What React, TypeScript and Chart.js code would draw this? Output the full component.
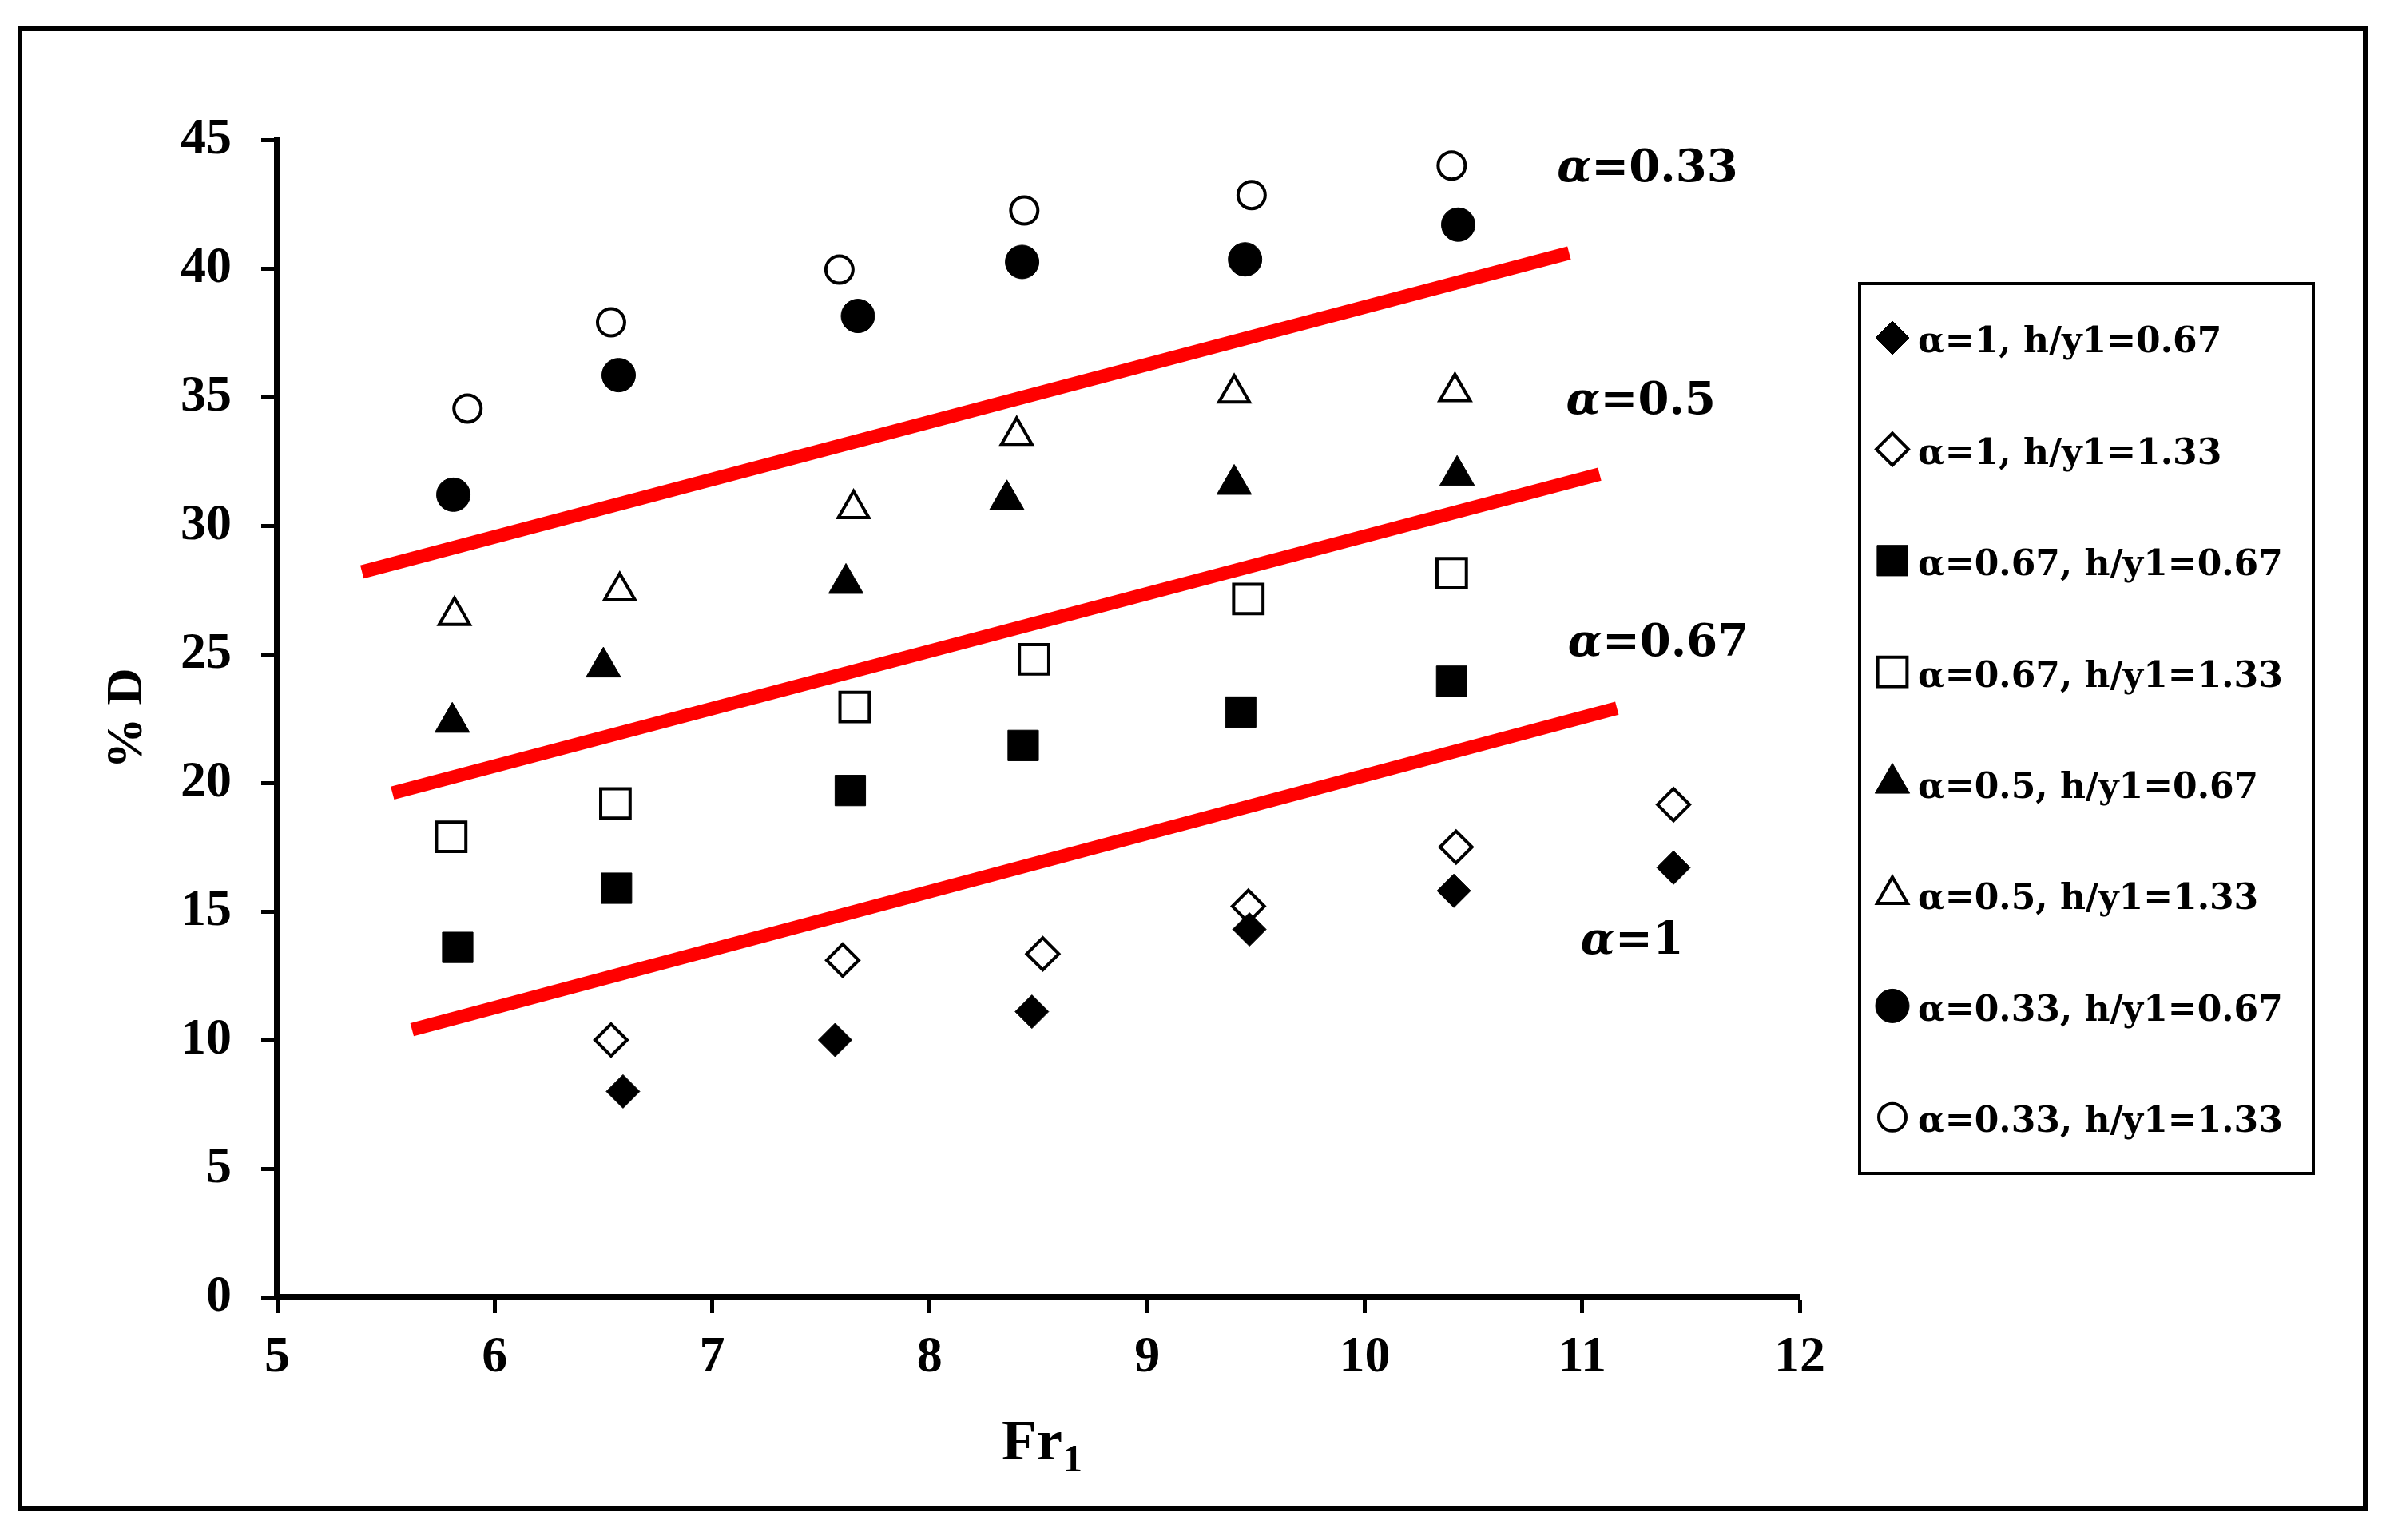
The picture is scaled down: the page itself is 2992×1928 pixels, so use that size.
import React, { useEffect, useRef } from 'react';
import { Chart, registerables } from 'chart.js';
import { drawPoint } from 'chart.js/helpers';

Chart.register(...registerables);

// ---------------- data ----------------
const seriesLabels = [
  'α=1, h/y1=0.67',
  'α=1, h/y1=1.33',
  'α=0.67, h/y1=0.67',
  'α=0.67, h/y1=1.33',
  'α=0.5, h/y1=0.67',
  'α=0.5, h/y1=1.33',
  'α=0.33, h/y1=0.67',
  'α=0.33, h/y1=1.33',
];

const a1h067X = [6.59, 7.565, 8.47, 9.47, 10.41, 11.42];
const a1h067Y = [8.0, 10.0, 11.1, 14.3, 15.8, 16.7];

const a1h133X = [6.535, 7.6, 8.52, 9.465, 10.42, 11.42];
const a1h133Y = [10.0, 13.1, 13.35, 15.2, 17.5, 19.15];

const a067h067X = [5.83, 6.56, 7.635, 8.43, 9.43, 10.4];
const a067h067Y = [13.6, 15.9, 19.7, 21.45, 22.75, 23.95];

const a067h133X = [5.8, 6.555, 7.655, 8.48, 9.465, 10.4];
const a067h133Y = [17.9, 19.2, 22.95, 24.8, 27.15, 28.15];

const a05h067X = [5.805, 6.5, 7.615, 8.355, 9.4, 10.425];
const a05h067Y = [22.35, 24.5, 27.75, 31.0, 31.6, 31.95];

const a05h133X = [5.815, 6.575, 7.65, 8.4, 9.4, 10.415];
const a05h133Y = [26.5, 27.45, 30.65, 33.5, 35.15, 35.2];

const a033h067X = [5.81, 6.57, 7.67, 8.425, 9.45, 10.43];
const a033h067Y = [31.2, 35.85, 38.15, 40.25, 40.35, 41.7];

const a033h133X = [5.875, 6.535, 7.585, 8.435, 9.48, 10.4];
const a033h133Y = [34.55, 37.9, 39.95, 42.25, 42.85, 44.0];

// red boundary lines: [x0, x1], [y0, y1]
const line033X = [5.39, 10.94];
const line033Y = [28.2, 40.6];
const line05X = [5.53, 11.08];
const line05Y = [19.6, 32.0];
const line067X = [5.62, 11.16];
const line067Y = [10.4, 22.9];

// region labels
const regionLabels = ['=0.33', '=0.5', '=0.67', '=1'];

// axis
const xTitleMain = 'Fr';
const xTitleSub = '1';
const yTitle = '% D';

// ---------------- styles ----------------
const SERIF = '"Liberation Serif", "Times New Roman", serif';
const WIDE = '"DejaVu Serif", serif';

const pts = (xs: number[], ys: number[]) => xs.map((x, i) => ({ x, y: ys[i] }));

const regionLabelPos = [
  { x: 11.3, y: 43.85 },
  { x: 11.27, y: 34.8 },
  { x: 11.35, y: 25.4 },
  { x: 11.23, y: 13.8 },
];

function markerDs(label: string, xs: number[], ys: number[], style: string, radius: number, filled: boolean) {
  return {
    type: 'scatter' as const,
    label,
    data: pts(xs, ys),
    showLine: false,
    pointStyle: style,
    pointRadius: radius,
    pointHoverRadius: radius,
    pointBackgroundColor: filled ? '#000000' : '#ffffff',
    pointBorderColor: '#000000',
    pointBorderWidth: filled ? 1 : 4,
    backgroundColor: filled ? '#000000' : '#ffffff',
    borderColor: '#000000',
    legendEntry: true,
  };
}

function lineDs(xs: number[], ys: number[]) {
  return {
    type: 'line' as const,
    label: '',
    data: pts(xs, ys),
    showLine: true,
    borderColor: '#ff0000',
    borderWidth: 17,
    borderCapStyle: 'butt',
    pointRadius: 0,
    pointHoverRadius: 0,
    fill: false,
    tension: 0,
    legendEntry: false,
  };
}

const boxLegend = {
  id: 'boxLegend',
  afterDraw(chart: any) {
    const ctx = chart.ctx as CanvasRenderingContext2D;
    ctx.save();
    ctx.lineWidth = 4;
    ctx.strokeStyle = '#000';
    ctx.strokeRect(2328, 355, 568, 1114);
    const entries = chart.data.datasets.filter((d: any) => d.legendEntry);
    entries.forEach((ds: any, i: number) => {
      const y = 423 + i * 139.4;
      ctx.fillStyle = ds.pointBackgroundColor;
      ctx.strokeStyle = ds.pointBorderColor;
      ctx.lineWidth = ds.pointBorderWidth;
      drawPoint(ctx, { pointStyle: ds.pointStyle, radius: ds.pointRadius, rotation: 0, borderWidth: ds.pointBorderWidth } as any, 2369, y);
      ctx.fillStyle = '#000';
      ctx.font = `bold 44px ${WIDE}`;
      ctx.textAlign = 'left';
      ctx.textBaseline = 'middle';
      ctx.fillText(ds.label, 2401, y + 7);
    });
    ctx.restore();
  },
};

const annotations = {
  id: 'annotations',
  afterDraw(chart: any) {
    const ctx = chart.ctx as CanvasRenderingContext2D;
    const xs = chart.scales.x;
    const ys = chart.scales.y;
    ctx.save();
    ctx.fillStyle = '#000';
    ctx.textBaseline = 'middle';
    ctx.textAlign = 'left';
    regionLabels.forEach((txt, i) => {
      const cx = xs.getPixelForValue(regionLabelPos[i].x);
      const cy = ys.getPixelForValue(regionLabelPos[i].y);
      ctx.font = `italic bold 56px ${WIDE}`;
      const wa = ctx.measureText('α').width;
      ctx.font = `bold 56px ${WIDE}`;
      const wt = ctx.measureText(txt).width;
      const x0 = cx - (wa + wt) / 2;
      ctx.font = `italic bold 56px ${WIDE}`;
      ctx.fillText('α', x0, cy);
      ctx.font = `bold 56px ${WIDE}`;
      ctx.fillText(txt, x0 + wa, cy);
    });
    // x-axis title with subscript
    const ca = chart.chartArea;
    const cx = (ca.left + ca.right) / 2 + 4;
    ctx.textBaseline = 'alphabetic';
    ctx.font = `bold 72px ${SERIF}`;
    const wMain = ctx.measureText(xTitleMain).width;
    ctx.font = `bold 48px ${SERIF}`;
    const wSub = ctx.measureText(xTitleSub).width;
    const sx = cx - (wMain + wSub) / 2;
    ctx.font = `bold 72px ${SERIF}`;
    ctx.fillText(xTitleMain, sx, 1827);
    ctx.font = `bold 48px ${SERIF}`;
    ctx.fillText(xTitleSub, sx + wMain + 1, 1842);
    ctx.restore();
  },
};

export default function App() {
  const ref = useRef<HTMLCanvasElement | null>(null);

  useEffect(() => {
    if (!ref.current) return;
    const datasets: any[] = [
      markerDs(seriesLabels[0], a1h067X, a1h067Y, 'rectRot', 21, true),
      markerDs(seriesLabels[1], a1h133X, a1h133Y, 'rectRot', 20, false),
      markerDs(seriesLabels[2], a067h067X, a067h067Y, 'rect', 27, true),
      markerDs(seriesLabels[3], a067h133X, a067h133Y, 'rect', 26, false),
      markerDs(seriesLabels[4], a05h067X, a05h067Y, 'triangle', 25, true),
      markerDs(seriesLabels[5], a05h133X, a05h133Y, 'triangle', 22, false),
      markerDs(seriesLabels[6], a033h067X, a033h067Y, 'circle', 21, true),
      markerDs(seriesLabels[7], a033h133X, a033h133Y, 'circle', 17, false),
      lineDs(line033X, line033Y),
      lineDs(line05X, line05Y),
      lineDs(line067X, line067Y),
    ];
    const tickFont = { family: SERIF, weight: 'bold' as const, size: 64 };
    const chart = new Chart(ref.current, {
      type: 'scatter',
      data: { datasets },
      options: {
        animation: false,
        responsive: false,
        devicePixelRatio: 1,
        events: [],
        layout: { padding: { left: 0, top: 175, right: 739, bottom: 0 } },
        plugins: {
          legend: { display: false },
          tooltip: { enabled: false },
        },
        scales: {
          x: {
            type: 'linear',
            min: 5,
            max: 12,
            ticks: { stepSize: 1, font: tickFont, color: '#000', padding: 18, maxRotation: 0 },
            grid: {
              display: true,
              drawOnChartArea: false,
              drawTicks: true,
              tickLength: 20,
              tickWidth: 5,
              tickColor: '#000',
              color: '#000',
            },
            border: { display: true, width: 8, color: '#000' },
            afterFit: (scale: any) => {
              scale.height = 304;
            },
          },
          y: {
            type: 'linear',
            min: 0,
            max: 45,
            ticks: { stepSize: 5, font: tickFont, color: '#000', padding: 37 },
            grid: {
              display: true,
              drawOnChartArea: false,
              drawTicks: true,
              tickLength: 20,
              tickWidth: 5,
              tickColor: '#000',
              color: '#000',
            },
            border: { display: true, width: 8, color: '#000' },
            title: {
              display: true,
              text: yTitle,
              color: '#000',
              font: { family: SERIF, weight: 'bold', size: 64 },
              padding: { top: 122, bottom: 0 },
            },
            afterFit: (scale: any) => {
              scale.width = 347;
            },
          },
        },
      } as any,
      plugins: [boxLegend, annotations],
    });
    return () => chart.destroy();
  }, []);

  return (
    <div style={{ position: 'absolute', left: 0, top: 0, width: 2992, height: 1928, background: '#fff' }}>
      <canvas ref={ref} width={2992} height={1928} style={{ position: 'absolute', left: 0, top: 0, width: 2992, height: 1928 }} />
      <div
        style={{
          position: 'absolute',
          left: 22,
          top: 33,
          width: 2942,
          height: 1859,
          border: '6px solid #000',
          boxSizing: 'border-box',
          pointerEvents: 'none',
        }}
      />
    </div>
  );
}
